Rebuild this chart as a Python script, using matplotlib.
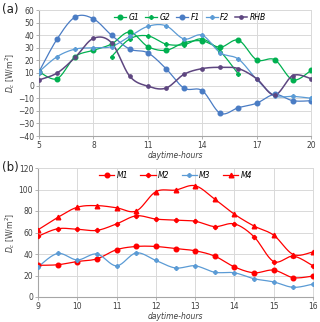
import numpy as np
import matplotlib
matplotlib.use("Agg")
import matplotlib.pyplot as plt
from matplotlib.lines import Line2D

# ---- data panel (a)
hours_a = [5, 6, 7, 8, 9, 10, 11, 12, 13, 14, 15, 16, 17, 18, 19, 20]
G1 = [11, 5.5, 23, 28, 33, 42.5, 31, 28, 34, 35.5, 30.5, 36, 20.5, 20.5, 4.5, 12]
hours_g2 = [9, 10, 11, 12, 13, 14, 15, 16]
G2 = [23, 37, 39.5, 33, 32.5, 37, 27, 9]
F1 = [11, 37, 54.5, 53, 40, 29, 26, 13.5, -2, -4, -22, -17.5, -14, -7, -12, -12]
F2 = [11, 23, 29, 30, 31, 39, 47, 47.5, 37, 40, 26, 21, 5, -8, -8.5, -10]
RHB = [4.5, 10, 22.5, 37.5, 34, 7.5, -0.5, -2, 9, 13.5, 14.5, 13.5, 5.5, -7.5, 8, 5.5]
xticks_a = [5, 8, 11, 14, 17, 20]
yticks_a = [-40, -30, -20, -10, 0, 10, 20, 30, 40, 50, 60]

# ---- data panel (b)
hours_b = [9, 9.5, 10, 10.5, 11, 11.5, 12, 12.5, 13, 13.5, 14, 14.5, 15, 15.5, 16]
M1 = [29.5, 30, 33, 35.5, 44, 47, 47, 45, 43, 38, 28, 22.5, 25, 18, 19.5]
M2 = [56.5, 63.5, 63, 62, 68, 75.5, 72.5, 71.5, 70.5, 65.5, 68, 56, 33, 38, 29]
M3 = [28, 40.5, 34.5, 40, 29, 41, 34, 27, 29, 23, 22.5, 17, 14, 9, 12]
M4 = [62.5, 74, 83.5, 85, 83, 80, 98, 99.5, 103.5, 91, 77, 66, 57.5, 39.5, 42]
xticks_b = [9, 10, 11, 12, 13, 14, 15, 16]
yticks_b = [0, 20, 40, 60, 80, 100, 120]


def smooth(x, y, n=20):
    """Excel-like smoothed line (cubic Bezier with Catmull-Rom control points)."""
    x = np.asarray(x, float); y = np.asarray(y, float)
    px = np.concatenate([[x[0]], x, [x[-1]]])
    py = np.concatenate([[y[0]], y, [y[-1]]])
    xs, ys = [], []
    t = np.linspace(0, 1, n)
    for i in range(1, len(px) - 2):
        p0 = np.array([px[i - 1], py[i - 1]]); p1 = np.array([px[i], py[i]])
        p2 = np.array([px[i + 1], py[i + 1]]); p3 = np.array([px[i + 2], py[i + 2]])
        c1 = p1 + (p2 - p0) / 6.0
        c2 = p2 - (p3 - p1) / 6.0
        b = ((1 - t) ** 3)[:, None] * p1 + (3 * (1 - t) ** 2 * t)[:, None] * c1 \
            + (3 * (1 - t) * t ** 2)[:, None] * c2 + (t ** 3)[:, None] * p2
        xs.append(b[:, 0]); ys.append(b[:, 1])
    return np.concatenate(xs), np.concatenate(ys)


GREEN = "#00B050"
BLUE1 = "#4A7CC4"
BLUE2 = "#5B9BD5"
PURPLE = "#5E4680"
RED = "#FF0000"
GRID = "#D9D9D9"

fig = plt.figure(figsize=(3.2, 3.22), dpi=100)
ax1 = fig.add_axes([39 / 320, 1 - 136 / 322, 272 / 320, 126 / 322])
ax2 = fig.add_axes([38 / 320, 1 - 297 / 322, 275 / 320, 129 / 322])


def series(ax, x, y, color, marker, ms, lw=0.9, label=None):
    sx, sy = smooth(x, y)
    ax.plot(sx, sy, color=color, lw=lw, zorder=3)
    ax.plot(x, y, linestyle="none", marker=marker, ms=ms, color=color,
            mec=color, mfc=color, zorder=4)
    return Line2D([], [], color=color, lw=lw, marker=marker, ms=ms, mfc=color, mec=color, label=label)


def style(ax, xticks, yticks):
    ax.set_xticks(xticks)
    ax.set_yticks(yticks)
    ax.set_xlim(xticks[0], xticks[-1])
    ax.set_ylim(yticks[0], yticks[-1])
    ax.grid(True, color=GRID, lw=0.7)
    ax.set_axisbelow(True)
    for s in ["top", "right"]:
        ax.spines[s].set_color(GRID)
        ax.spines[s].set_linewidth(0.7)
    for s in ["left", "bottom"]:
        ax.spines[s].set_color("#A6A6A6")
        ax.spines[s].set_linewidth(0.8)
    ax.tick_params(labelsize=5.5, length=2, width=0.6, color="#A6A6A6", pad=1.5, labelcolor="#404040")
    ax.set_xlabel("daytime-hours", fontsize=5.5, style="italic", labelpad=1, color="#404040")
    ax.set_ylabel("$D_c$ [W/m$^2$]", fontsize=5.5, labelpad=1, color="#404040")


h = []
h.append(series(ax1, hours_a, G1, GREEN, "o", 3.3, label="G1"))
h.append(series(ax1, hours_g2, G2, GREEN, "P", 2.6, label="G2"))
h.append(series(ax1, hours_a, F1, BLUE1, "o", 3.3, label="F1"))
h.append(series(ax1, hours_a, F2, BLUE2, "P", 2.6, label="F2"))
h.append(series(ax1, hours_a, RHB, PURPLE, "o", 2.4, lw=1.1, label="RHB"))
style(ax1, xticks_a, yticks_a)
leg = ax1.legend(handles=h, loc="upper center", ncol=5, frameon=False, fontsize=5.5,
                 bbox_to_anchor=(0.555, 1.03), handlelength=1.6, columnspacing=0.75, handletextpad=0.3)
for t in leg.get_texts():
    t.set_style("italic")

h = []
h.append(series(ax2, hours_b, M1, RED, "o", 3.3, label="M1"))
h.append(series(ax2, hours_b, M2, RED, "P", 2.8, label="M2"))
h.append(series(ax2, hours_b, M3, BLUE2, "P", 2.6, label="M3"))
h.append(series(ax2, hours_b, M4, RED, "^", 3.3, label="M4"))
style(ax2, xticks_b, yticks_b)
leg = ax2.legend(handles=h, loc="upper center", ncol=4, frameon=False, fontsize=5.5,
                 bbox_to_anchor=(0.5, 1.03), handlelength=2.0, columnspacing=1.6, handletextpad=0.3)
for t in leg.get_texts():
    t.set_style("italic")

fig.text(2 / 320, 1 - 9 / 322, "(a)", fontsize=8.5, va="center", ha="left", color="#202020")
fig.text(2 / 320, 1 - 168 / 322, "(b)", fontsize=8.5, va="center", ha="left", color="#202020")

fig.savefig("out.png", dpi=100)
